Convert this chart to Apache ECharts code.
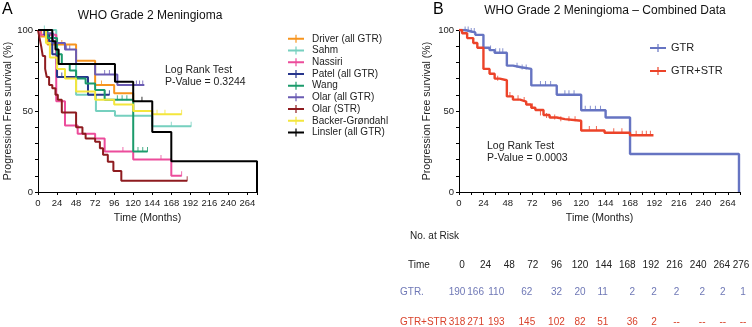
<!DOCTYPE html>
<html>
<head>
<meta charset="utf-8">
<script src="https://cdn.jsdelivr.net/npm/echarts@6/dist/echarts.min.js"></script>
<style>
html,body{margin:0;padding:0;background:#fff}
#main{width:752px;height:327px}
</style>
</head>
<body>
<div id="main"></div>
<script>
// Panel A - individual studies (time in months, PFS %)
var driverData = [[0,100],[4,96],[12,91],[48,81],[72,66],[96,61],[120,50],[145,50]];
var sahmData = [[0,100],[23,79],[48,60],[73,50],[97,47],[144,40.6],[193,40.6]];
var nassiriData = [[0,100],[3,97],[23,56],[34,41],[50,36],[72,33],[84,25],[120,20],[168,10],[181,10]];
var patelData = [[0,100],[8,97],[14,93],[18,85],[24,71],[63,60],[90,60]];
var wangData = [[0,100],[12,95],[24,85],[30,79],[40,75],[48,70],[60,67],[72,63],[84,57],[120,25],[138,25]];
var olarGtrData = [[0,100],[10,98],[19,92],[34,88],[48,79],[72,72.5],[100,66],[134,66]];
var olarStrData = [[0,100],[2,95],[4,90],[6,84],[9,76],[11,71],[14,66],[18,64],[22,60],[25,57],[30,49],[48,40],[56,36],[60,33],[72,31],[78,27],[82,23],[88,18.7],[95,13],[105,7],[188,7]];
var backerData = [[0,100],[10,92],[15,83],[24,76],[34,70],[48,62],[72,57],[96,54],[120,50],[144,48],[181,48]];
var linslerData = [[0,100],[18,93],[22,88],[26,79],[97,68],[120,56],[144,37],[168,19],[276,0]];

var driverCensor = [[30,91],[80,66],[144,50]];
var sahmCensor = [[8,100],[168,40.6],[193,40.6]];
var nassiriCensor = [[107,25],[155,20],[181,10]];
var patelCensor = [[22,85],[30,71],[84,60],[90,60]];
var wangCensor = [[60,67],[100,57],[106,57],[112,57],[126,25],[132,25],[138,25]];
var olarGtrCensor = [[36,88],[40,88],[84,72.5],[90,72.5],[124,66],[128,66],[132,66]];
var olarStrCensor = [[188,7]];
var backerCensor = [[150,48],[160,48],[181,48]];
var linslerCensor = [[131,56]];

// Panel B - combined data
var gtrData = [[0,100],[6,99.4],[10,98.5],[16,97],[24,89],[30,87.6],[35,86],[47,78],[53,77],[61,76],[71,65.8],[96,60],[120,50.5],[144,46],[168,23.5],[275,0]];
var gtrStrData = [[0,100],[3,98],[8,95],[14,92],[18,89],[24,76],[30,73],[35,70],[40,69],[47,59],[53,57],[60,55.8],[66,54],[71,52],[75,50.6],[83,47.5],[89,46],[96,45],[104,44],[120,38],[143,36.6],[168,35],[191,35]];
var gtrCensor = [[6,99.4],[9,99.4],[12,98.5],[15,98.5],[31,87.6],[36,86],[40,86],[43,86],[57,77],[62,76],[66,76],[80,65.8],[85,65.8],[90,65.8],[104,60],[108,60],[113,60],[124,50.5],[129,50.5],[134,50.5],[139,50.5]];
var gtrStrCensor = [[38,69],[50,59],[58,57],[64,55.8],[72,52],[80,47.5],[86,46],[94,45],[100,44],[108,44],[114,44],[128,38],[135,38],[152,36.6],[160,36.6],[174,35],[180,35],[184,35],[188,35]];

// No. at risk table
var riskTimes = [0,24,48,72,96,120,144,168,192,216,240,264,276];
var riskGtr = ['190','166','110','62','32','20','11','2','2','2','2','2','1'];
var riskGtrStr = ['318','271','193','145','102','82','51','36','2','--','--','--','--'];
// small horizontal nudges of the count columns (layout only)
var riskShift = [-5,-10,-13,-6,0,0,-1,5,3,2,4,1,2];

var FONT = '"Liberation Sans", Arial, sans-serif';

var studiesA = [
  { name: 'Driver (all GTR)', color: '#f7941d', data: driverData, censor: driverCensor },
  { name: 'Sahm', color: '#76d0bf', data: sahmData, censor: sahmCensor },
  { name: 'Nassiri', color: '#ec4c9b', data: nassiriData, censor: nassiriCensor },
  { name: 'Patel (all GTR)', color: '#27358c', data: patelData, censor: patelCensor },
  { name: 'Wang', color: '#1b9b6b', data: wangData, censor: wangCensor },
  { name: 'Olar (all GTR)', color: '#6a5bb3', data: olarGtrData, censor: olarGtrCensor },
  { name: 'Olar (STR)', color: '#8e1b1f', data: olarStrData, censor: olarStrCensor },
  { name: 'Backer-Grøndahl', color: '#f4e63c', data: backerData, censor: backerCensor },
  { name: 'Linsler (all GTR)', color: '#000000', data: linslerData, censor: linslerCensor }
];
var groupsB = [
  { name: 'GTR', color: '#6674c2', data: gtrData, censor: gtrCensor },
  { name: 'GTR+STR', color: '#ec4329', data: gtrStrData, censor: gtrStrCensor }
];

var tickIcon = 'path://M0,3H16V5H0Z M7.4,0H8.6V8H7.4Z';

function kmSeries(list, axisIdx, width) {
  var out = [];
  list.forEach(function (s) {
    out.push({
      name: s.name, type: 'line', step: 'end',
      xAxisIndex: axisIdx, yAxisIndex: axisIdx,
      data: s.data, showSymbol: false, symbol: 'none',
      itemStyle: { color: s.color },
      lineStyle: { color: s.color, width: width },
      silent: true, animation: false
    });
    out.push({
      name: s.name, type: 'scatter',
      xAxisIndex: axisIdx, yAxisIndex: axisIdx,
      data: s.censor, symbol: 'rect', symbolSize: [1, 5], symbolOffset: [0, -2],
      itemStyle: { color: s.color },
      silent: true, animation: false
    });
  });
  return out;
}

function xAxisCfg(grid, interval, labelFn) {
  return {
    type: 'value', gridIndex: grid, min: 0, max: 276, interval: interval,
    name: 'Time (Months)', nameLocation: 'middle', nameGap: 21,
    nameTextStyle: { fontFamily: FONT, fontSize: 10.5, color: '#222' },
    axisLine: { show: true, lineStyle: { color: '#000', width: 1 } },
    axisTick: { show: true, length: 3, lineStyle: { color: '#000' } },
    axisLabel: { fontFamily: FONT, fontSize: 9.5, color: '#222', margin: 6, formatter: labelFn, showMaxLabel: true },
    splitLine: { show: false }
  };
}
function yAxisCfg(grid, gap) {
  return {
    type: 'value', gridIndex: grid, min: 0, max: 100, interval: 10,
    name: 'Progression Free survival (%)', nameLocation: 'middle', nameGap: gap, nameRotate: 90,
    nameTextStyle: { fontFamily: FONT, fontSize: 10.5, color: '#222' },
    axisLine: { show: true, lineStyle: { color: '#000', width: 1 } },
    axisTick: { show: true, length: 3, lineStyle: { color: '#000' } },
    axisLabel: { fontFamily: FONT, fontSize: 9.5, color: '#222', margin: 5,
      formatter: function (v) { return v % 50 === 0 ? String(v) : ''; } },
    splitLine: { show: false }
  };
}

var dom = document.getElementById('main');
var myChart = echarts.init(dom, null, { renderer: 'canvas' });

var option = {
  backgroundColor: '#fff',
  animation: false,
  textStyle: { fontFamily: FONT },
  title: [
    { text: 'A', left: 2, top: 2, padding: 0, textStyle: { fontFamily: FONT, fontSize: 16, fontWeight: 'normal', color: '#000' } },
    { text: 'WHO Grade 2 Meningioma', left: 150, top: 10, padding: 0, textAlign: 'center',
      textStyle: { fontFamily: FONT, fontSize: 12, fontWeight: 'normal', color: '#111' } },
    { text: 'B', left: 433, top: 2, padding: 0, textStyle: { fontFamily: FONT, fontSize: 16, fontWeight: 'normal', color: '#000' } },
    { text: 'WHO Grade 2 Meningioma \u2013 Combined Data', left: 605, top: 5, padding: 0, textAlign: 'center',
      textStyle: { fontFamily: FONT, fontSize: 12, fontWeight: 'normal', color: '#111' } }
  ],
  legend: [
    {
      data: studiesA.map(function (s) { return s.name; }),
      orient: 'vertical', left: 288, top: 33, itemGap: 0, padding: 0,
      itemWidth: 16, itemHeight: 8, icon: tickIcon,
      textStyle: { fontFamily: FONT, fontSize: 10, lineHeight: 11.7, color: '#222', padding: [0, 0, 0, 3] },
      selectedMode: false
    },
    {
      data: groupsB.map(function (s) { return s.name; }),
      orient: 'vertical', left: 650, top: 41.5, itemGap: 10, padding: 0,
      itemWidth: 16, itemHeight: 8, icon: tickIcon,
      textStyle: { fontFamily: FONT, fontSize: 11, lineHeight: 13, color: '#222', padding: [0, 0, 0, 0] },
      selectedMode: false
    }
  ],
  grid: [
    { left: 38, top: 30, width: 219, height: 162 },
    { left: 459, top: 30, width: 281, height: 162 }
  ],
  xAxis: [
    xAxisCfg(0, 24, function (v) { return v <= 264 ? String(v) : ''; }),
    xAxisCfg(1, 12, function (v) { return (v % 24 === 0 && v <= 264) ? String(v) : ''; })
  ],
  yAxis: [yAxisCfg(0, 23), yAxisCfg(1, 26)],
  series: kmSeries(studiesA, 0, 2).concat(kmSeries(groupsB, 1, 2.4))
};

myChart.setOption(option);

// annotations and number-at-risk table, laid out along panel B's time axis
var txt = function (x, y, s, color, align, size) {
  return { type: 'text', x: x, y: y, silent: true,
    style: { text: s, fill: color || '#222', font: (size || 10) + 'px ' + FONT, textAlign: align || 'left', textVerticalAlign: 'middle' } };
};
var graphics = [
  txt(165, 70, 'Log Rank Test', null, null, 10.5), txt(165, 82, 'P-Value = 0.3244', null, null, 10.5),
  txt(487, 146, 'Log Rank Test', null, null, 10.5), txt(487, 158, 'P-Value = 0.0003', null, null, 10.5),
  txt(410, 236, 'No. at Risk'),
  txt(408, 265, 'Time'),
  txt(400, 292, 'GTR.', '#6f78b6'),
  txt(400, 322, 'GTR+STR', '#d9432c')
];

var x0 = myChart.convertToPixel({ xAxisIndex: 1 }, 0) + 3;
var x264 = myChart.convertToPixel({ xAxisIndex: 1 }, 264) - 6;
riskTimes.forEach(function (t, i) {
  var x = t <= 264 ? x0 + (x264 - x0) * t / 264 : myChart.convertToPixel({ xAxisIndex: 1 }, t) + 1;
  graphics.push(txt(x, 265, String(t), '#222', 'center'));
  graphics.push(txt(x + riskShift[i], 292, riskGtr[i], '#6f78b6', 'center'));
  graphics.push(txt(x + riskShift[i], 322, riskGtrStr[i], '#d9432c', 'center'));
});
myChart.setOption({ graphic: graphics });

window.addEventListener('resize', myChart.resize);
</script>
</body>
</html>
